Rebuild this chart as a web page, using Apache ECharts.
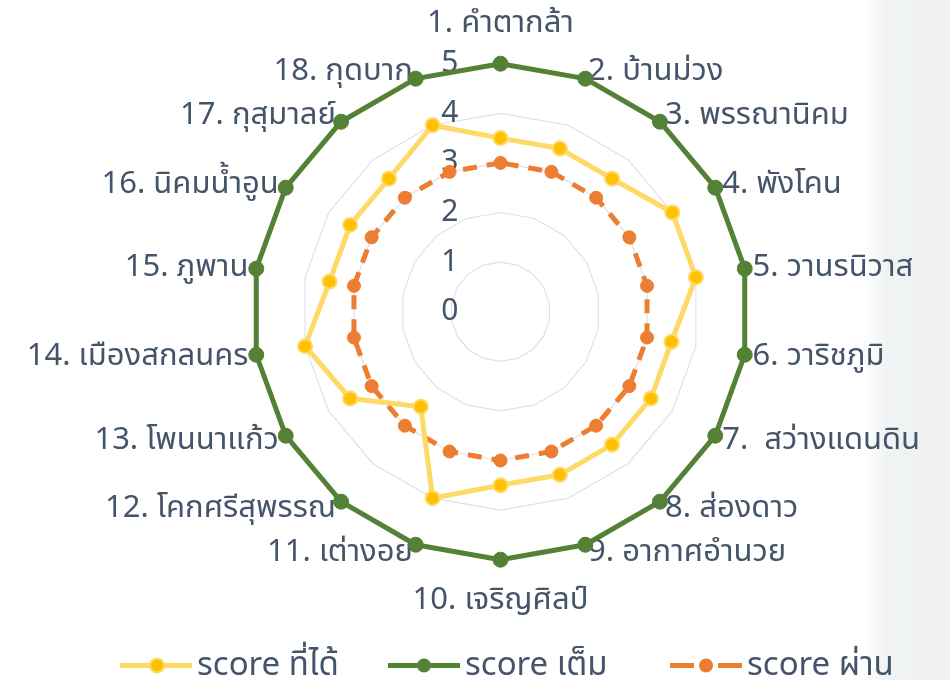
<!DOCTYPE html>
<html>
<head>
<meta charset="utf-8">
<script src="https://cdn.jsdelivr.net/npm/echarts@6/dist/echarts.min.js"></script>
<style>
  html, body { margin: 0; padding: 0; background: #ffffff; }
  #chart { width: 950px; height: 680px; }
</style>
</head>
<body>
<div id="chart"></div>
<script>
// Schools along the radar axes, clockwise from the top
const schools = [
  '1. คำตากล้า', '2. บ้านม่วง', '3. พรรณานิคม', '4. พังโคน', '5. วานรนิวาส',
  '6. วาริชภูมิ', '7.  สว่างแดนดิน', '8. ส่องดาว', '9. อากาศอำนวย', '10. เจริญศิลป์',
  '11. เต่างอย', '12. โคกศรีสุพรรณ', '13. โพนนาแก้ว', '14. เมืองสกลนคร', '15. ภูพาน',
  '16. นิคมน้ำอูน', '17. กุสุมาลย์', '18. กุดบาก'
];

// Score obtained
const scoreGot = [3.5, 3.5, 3.5, 4, 4, 3.5, 3.5, 3.5, 3.5, 3.5, 4, 2.5, 3.5, 4, 3.5, 3.5, 3.5, 4];
// Full score
const scoreFull = [5, 5, 5, 5, 5, 5, 5, 5, 5, 5, 5, 5, 5, 5, 5, 5, 5, 5];
// Passing score
const scorePass = [3, 3, 3, 3, 3, 3, 3, 3, 3, 3, 3, 3, 3, 3, 3, 3, 3, 3];

const seriesNames = ['score ที่ได้', 'score เต็ม', 'score ผ่าน'];
const scaleMax = 5;

const textColor = '#44546a';
const fontFamily = '"Noto Sans", "Noto Sans Thai", sans-serif';

const styles = [
  { line: '#ffd966', dot: '#ffc000', border: '#ffd966', dashed: false },
  { line: '#538135', dot: '#538135', border: '#538135', dashed: false },
  { line: '#ed7d31', dot: '#ed7d31', border: '#ed7d31', dashed: true }
];

// ECharts lays radar axes out counter-clockwise; walk the list backwards
// after the first entry so the schools run clockwise.
const order = [0];
for (let i = schools.length - 1; i >= 1; i--) order.push(i);
const pick = arr => order.map(i => arr[i]);

const chart = echarts.init(document.getElementById('chart'), null, { renderer: 'canvas' });

const indicators = order.map((i, pos) => {
  const ind = { name: schools[i], max: scaleMax, min: 0 };
  // top and bottom names sit a little further out
  if (i === 0 || i === 9) ind.nameGap = 25;
  if (pos === 0) {
    // tick values only along the first (vertical) axis
    ind.axisLabel = {
      show: true,
      color: textColor,
      fontSize: 30,
      fontFamily: fontFamily,
      margin: 42,
      padding: [13, 0, 0, 0],
      showMaxLabel: true,
      showMinLabel: true
    };
  }
  return ind;
});

// Legend glyphs, drawn in a 72x16 box: a bar (solid or dashed) and,
// on a second layer, the marker dot in the middle.
const BOX = 'M0,0M72,16';
const iconBar = 'path://' + BOX + 'M0,5.5h72v5h-72z';
const iconBarDashed = 'path://' + BOX + 'M0,5.5h24v5h-24zM48,5.5h24v5h-24z';
const iconDot = 'path://' + BOX + 'M29,8a7,7 0 1,1 14,0a7,7 0 1,1 -14,0z';

const legendLefts = [115, 383, 665];
const legendBase = {
  bottom: -7,
  itemWidth: 72,
  itemHeight: 16,
  selectedMode: false,
  textStyle: { color: textColor, fontSize: 33, fontFamily: fontFamily }
};
const legends = [];
seriesNames.forEach((n, k) => {
  const s = styles[k];
  legends.push(Object.assign({}, legendBase, {
    left: legendLefts[k],
    z: 4,
    data: [{ name: n, icon: s.dashed ? iconBarDashed : iconBar, itemStyle: { color: s.line, borderWidth: 0 } }]
  }));
  legends.push(Object.assign({}, legendBase, {
    left: legendLefts[k],
    z: 5,
    data: [{
      name: n, icon: iconDot,
      itemStyle: { color: s.dot, borderColor: s.border, borderWidth: k === 0 ? 2 : 0 },
      textStyle: { color: 'rgba(0,0,0,0)' }
    }]
  }));
});

chart.setOption({
  backgroundColor: '#ffffff',
  animation: false,
  graphic: [{
    type: 'rect',
    silent: true,
    z: -10,
    shape: { x: 862, y: 0, width: 88, height: 680 },
    style: {
      fill: {
        type: 'linear', x: 0, y: 0, x2: 1, y2: 0,
        colorStops: [
          { offset: 0, color: 'rgba(238,241,241,0)' },
          { offset: 0.3, color: 'rgba(238,241,241,0.85)' },
          { offset: 1, color: 'rgba(240,242,242,1)' }
        ]
      }
    }
  }],
  legend: legends,
  radar: {
    center: [500.5, 311.7],
    radius: 248,
    startAngle: 90,
    shape: 'polygon',
    splitNumber: 5,
    axisName: {
      color: textColor,
      fontSize: 31,
      fontFamily: fontFamily
    },
    nameGap: 8,
    axisLine: { show: false },
    axisTick: { show: false },
    axisLabel: { show: false },
    splitLine: { lineStyle: { color: '#dde2ea', width: 1.2 } },
    splitArea: { show: false },
    indicator: indicators
  },
  series: [
    {
      type: 'radar',
      name: seriesNames[0],
      symbol: 'circle',
      symbolSize: 14,
      z: 4,
      data: [{ name: seriesNames[0], value: pick(scoreGot) }],
      lineStyle: { color: styles[0].line, width: 5 },
      itemStyle: { color: styles[0].dot, borderColor: styles[0].border, borderWidth: 2 }
    },
    {
      type: 'radar',
      name: seriesNames[1],
      symbol: 'circle',
      symbolSize: 15,
      z: 2,
      data: [{ name: seriesNames[1], value: pick(scoreFull) }],
      lineStyle: { color: styles[1].line, width: 5 },
      itemStyle: { color: styles[1].dot, borderColor: styles[1].border, borderWidth: 1 }
    },
    {
      type: 'radar',
      name: seriesNames[2],
      symbol: 'circle',
      symbolSize: 13,
      z: 3,
      data: [{ name: seriesNames[2], value: pick(scorePass) }],
      lineStyle: { color: styles[2].line, width: 5, type: [14, 10] },
      itemStyle: { color: styles[2].dot, borderColor: styles[2].border, borderWidth: 1 }
    }
  ]
});
</script>
</body>
</html>
